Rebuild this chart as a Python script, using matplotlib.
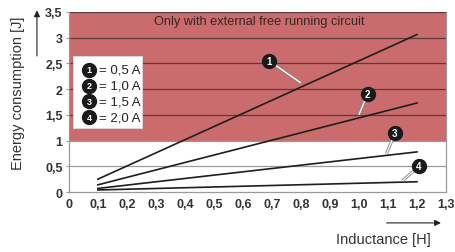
import matplotlib.pyplot as plt
import numpy as np

plt.rcParams['font.family'] = ['Liberation Sans', 'DejaVu Sans']

# inductance [H] at the two ends of each line
inductance = [0.1, 1.2]
# energy [J] at those ends, one per current
energy = {
    "1": [0.25, 3.06],
    "2": [0.14, 1.73],
    "3": [0.07, 0.78],
    "4": [0.04, 0.20],
}
currents = ["0,5 A", "1,0 A", "1,5 A", "2,0 A"]

# numbered callouts: marker position and point where the leader touches the line
callout_pos = {"1": (0.69, 2.55), "2": (1.03, 1.91), "3": (1.124, 1.14), "4": (1.207, 0.50)}
callout_tip = {"1": (0.80, 2.12), "2": (1.00, 1.50), "3": (1.095, 0.745), "4": (1.15, 0.22)}

xticks = np.round(np.arange(0, 1.31, 0.1), 1)
yticks = np.arange(0, 3.51, 0.5)
xlabels = ["0"] + [f"{v:.1f}".replace(".", ",") for v in xticks[1:]]
ylabels = [f"{v:g}".replace(".", ",") for v in yticks]

RED = "#ca6c6d"
TICKC = "#333333"


def circ(ax, x, y, label, ms=10, fs=7):
    ax.plot(x, y, "o", ms=ms, color="#1a1a1a", mec="#1a1a1a", zorder=6, clip_on=False)
    ax.text(x, y, label, color="white", fontsize=fs, fontweight="bold",
            ha="center", va="center", zorder=7)


fig = plt.figure(figsize=(4.56, 2.53), dpi=100)
ax = fig.add_axes([0.151, 0.237, 0.827, 0.712])
ax.set_xlim(0, 1.3)
ax.set_ylim(0, 3.5)

ax.axhspan(1, 3.5, color=RED, lw=0, zorder=0)
for yv in yticks[1:]:
    col = "#5e3a3b" if yv > 1 else "#9a9a9a"
    ax.axhline(yv, color=col, lw=0.9, zorder=1)

for k in energy:
    ax.plot(inductance, energy[k], color="#1e1e1e", lw=1.2, zorder=3)

for k in callout_pos:
    (x0, y0), (x1, y1) = callout_pos[k], callout_tip[k]
    ax.plot([x0, x1], [y0, y1], color="#8a8a8a", lw=2.2, zorder=4, solid_capstyle="butt")
    ax.plot([x0, x1], [y0, y1], color="white", lw=0.9, zorder=4, solid_capstyle="butt")
    circ(ax, x0, y0, k)

# legend box
ax.add_patch(plt.Rectangle((0.015, 1.24), 0.237, 1.41, facecolor="white",
                           edgecolor="#dddddd", lw=0.6, zorder=5))
ly = [2.38, 2.07, 1.765, 1.45]
for i, k in enumerate(energy):
    circ(ax, 0.071, ly[i], k, ms=10, fs=6.5)
    ax.text(0.103, ly[i], "= " + currents[i], fontsize=9.5, color="#222222",
            ha="left", va="center", zorder=7)

ax.text(0.655, 3.33, "Only with external free running circuit", fontsize=9.2,
        color="#3a2424", ha="center", va="center", zorder=2)

ax.spines["top"].set_visible(False)
for s in ["left", "bottom", "right"]:
    ax.spines[s].set_color("#9a9a9a")
    ax.spines[s].set_linewidth(0.9)

ax.set_xticks(xticks)
ax.set_xticklabels(xlabels)
ax.set_yticks(yticks)
ax.set_yticklabels(ylabels)
ax.tick_params(axis="both", length=2.5, width=0.8, color="#9a9a9a", labelsize=9,
               labelcolor=TICKC, pad=2)
for t in ax.get_xticklabels() + ax.get_yticklabels():
    t.set_fontweight("bold")
ax.tick_params(axis="x", length=0, pad=4)

fig.text(0.040, 0.63, "Energy consumption [J]", rotation=90, fontsize=10.5,
         color="#333333", ha="center", va="center")
fig.text(0.84, 0.05, "Inductance [H]", fontsize=10.5, color="#333333",
         ha="center", va="center")
ax.annotate("", xy=(0.081, 0.955), xytext=(0.081, 0.775), xycoords="figure fraction",
            arrowprops=dict(arrowstyle="-|>", color="#222222", lw=0.8,
                            mutation_scale=9, shrinkA=0, shrinkB=0))
ax.annotate("", xy=(0.967, 0.115), xytext=(0.848, 0.115), xycoords="figure fraction",
            arrowprops=dict(arrowstyle="-|>", color="#222222", lw=0.8,
                            mutation_scale=9, shrinkA=0, shrinkB=0))

fig.savefig("out.png", dpi=100)
